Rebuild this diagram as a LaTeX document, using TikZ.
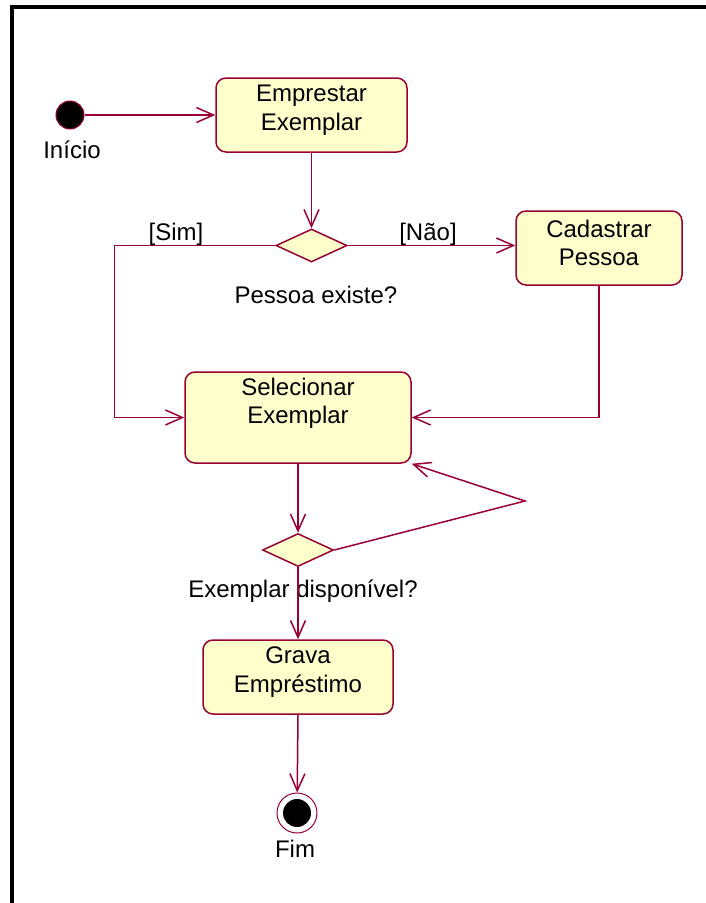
\documentclass[tikz,border=0pt]{standalone}
\usepackage{fontspec}
\setmainfont{Liberation Sans}
\usetikzlibrary{arrows.meta,shapes.geometric}
\definecolor{flow}{RGB}{153,0,51}
\definecolor{actfill}{RGB}{255,255,204}
\begin{document}
\begin{tikzpicture}[x=1pt,y=-1pt,
  font=\fontsize{24}{28.5}\selectfont,
  flowline/.style={draw=flow, line width=1.5pt},
  arr/.style={flowline, -{Straight Barb[length=17pt,width=15pt]}},
  act/.style={rectangle, rounded corners=10pt, draw=flow, fill=actfill,
    line width=1.5pt, inner sep=0pt},
  acttext/.style={align=center, inner sep=0pt},
  decision/.style={diamond, draw=flow, fill=actfill, line width=1.5pt,
    inner sep=0pt, minimum width=71pt, minimum height=33pt},
  caption/.style={anchor=base, inner sep=0pt},
]
\useasboundingbox (0,0) rectangle (706,903);
% frame
\draw[line width=4.5pt, line join=miter] (12,903) -- (12,7) -- (706,7);

% initial state
\node[circle, fill=black, draw=flow, line width=1pt, minimum size=28pt, inner sep=0pt] (inicio) at (70,115) {};
\node[caption] (inicioL) at (72,158) {Início};

% activities
\node[act, minimum width=191pt, minimum height=74pt,
  label={[acttext, name=empL, yshift=5pt]center:{Emprestar\\Exemplar}}] (emp) at (311.5,115) {};
\node[act, minimum width=166pt, minimum height=74pt,
  label={[acttext, name=cadL, yshift=5pt]center:{Cadastrar\\Pessoa}}] (cad) at (599,248) {};
\node[act, minimum width=226pt, minimum height=91pt,
  label={[acttext, name=selL, yshift=14pt]center:{Selecionar\\Exemplar}}] (sel) at (298,417.5) {};
\node[act, minimum width=190pt, minimum height=74pt,
  label={[acttext, name=graL, yshift=5pt]center:{Grava\\Empréstimo}}] (grava) at (298,677) {};

% decisions
\node[decision] (d1) at (311.5,245.5) {};
\node[decision] (d2) at (298,550) {};
\node[caption] (d1L) at (316,303) {Pessoa existe?};
\node[caption] (d2L) at (303,597) {Exemplar disponível?};
\node[caption] (simL) at (176,240) {[Sim]};
\node[caption] (naoL) at (428,240) {[Não]};

% final state
\node[circle, draw=flow, fill=white, line width=1pt, minimum size=40pt, inner sep=0pt,
  path picture={\fill[black] (path picture bounding box.center) circle (14pt);}] (fim) at (297,813) {};
\node[caption] (fimL) at (295,857) {Fim};

% transitions
\coordinate (loop) at (525,501);
\draw[arr] (inicio) -- (emp.west);
\draw[arr] (emp.south) -- (d1.north);
\draw[arr] (d1.west) -| ([xshift=-70pt]sel.west) -- (sel.west);
\draw[arr] (d1.east) -- (d1.east -| cad.west);
\draw[arr] (cad.south) |- (sel.east);
\draw[arr] (sel.south) -- (d2.north);
\draw[arr] (d2.east) -- (loop) -- (sel.south east);
\draw[arr] (d2.south) -- (grava.north);
\draw[arr] (grava.south) -- (fim);
\end{tikzpicture}
\end{document}
